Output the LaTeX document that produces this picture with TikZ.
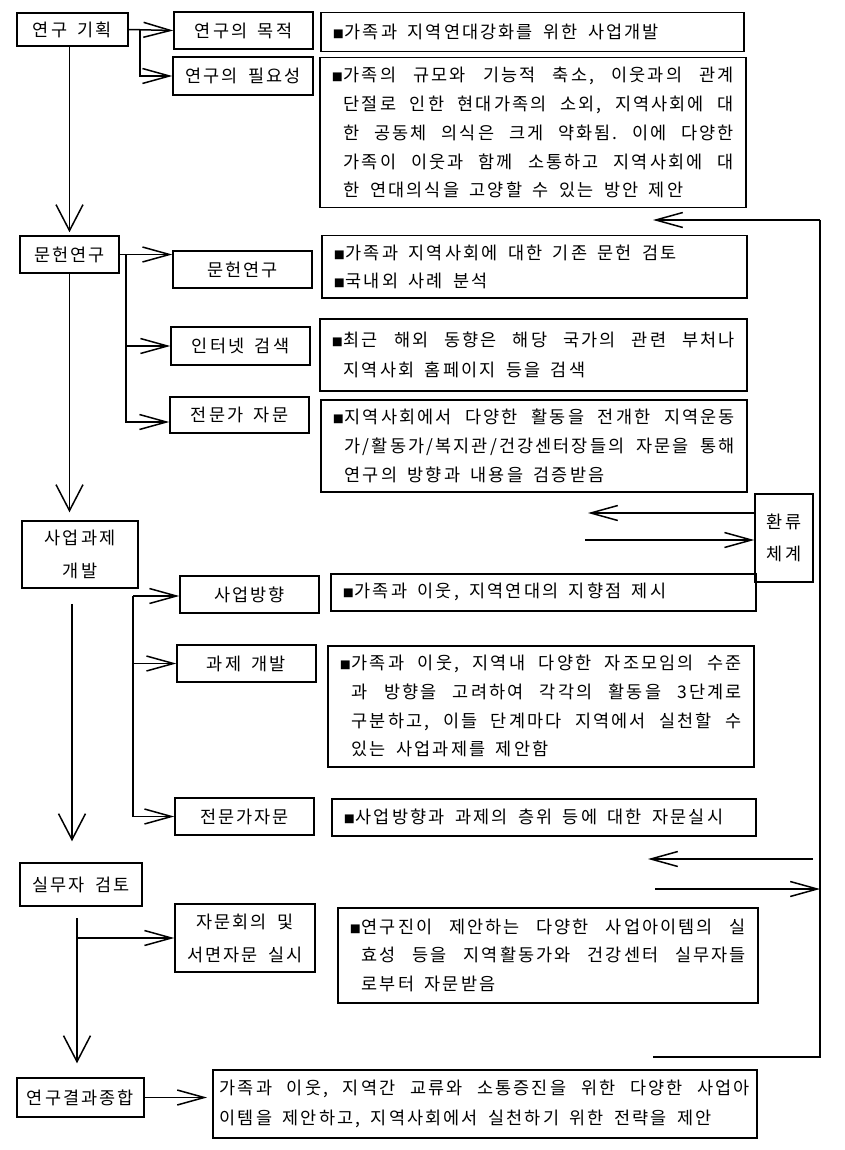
\documentclass[tikz,border=0pt]{standalone}
\usepackage{fontspec}
\setmainfont{Noto Sans CJK KR}[LetterSpace=12]
\usetikzlibrary{arrows.meta}

\newcommand{\kf}[1]{\fontsize{17.5}{#1}\selectfont\frenchspacing\parindent=0pt}
\newcommand{\wsp}{\spaceskip=0.6em plus 0.5em\relax\xspaceskip=\spaceskip}
\newcommand{\bul}{\makebox[12pt][l]{\fontsize{11}{11}\selectfont ■}}
\newcommand{\ind}{\hspace*{12pt}}
\newcommand{\jl}[1]{\makebox[\dimexpr\hsize-12pt\relax][s]{#1}}
\newcommand{\jlw}[1]{\makebox[\hsize][s]{#1}}

\begin{document}
\begin{tikzpicture}[x=1pt,y=-1pt,line width=1.5pt,
    lbl/.style={draw,minimum width=139pt,minimum height=37pt,inner sep=0pt,align=center,font=\kf{33},execute at begin node=\wsp},
    cbox/.style={draw,anchor=north west,align=left,inner xsep=12pt,inner ysep=0pt,execute at begin node=\wsp},
    harr/.style={-{Straight Barb[length=27pt,width=15pt]}},
    varr/.style={-{Straight Barb[length=26pt,width=27pt]}}]

\useasboundingbox (0,0) rectangle (845,1150);

% left column
\node[lbl,minimum width=111pt,minimum height=33pt] (plan) at (72.5,29.5) {연구 기획};
\node[lbl,minimum width=99pt] (lit) at (69.5,254.5) {문헌연구};
\node[lbl,minimum width=116pt,minimum height=67pt] (dev) at (80,554.5) {사업과제\\개발};
\node[lbl,minimum width=122pt,minimum height=43pt] (rev) at (81,884.5) {실무자 검토};
\node[lbl,minimum width=127pt,minimum height=39pt] (sum) at (80.5,1097.5) {연구결과종합};

% middle column
\node[lbl] (aim) at (243.5,30.5) {연구의 목적};
\node[lbl,minimum width=140pt,minimum height=38pt] (need) at (243,76) {연구의 필요성};
\node[lbl] (lit2) at (242.5,269.5) {문헌연구};
\node[lbl,minimum height=38pt] (web) at (240.5,346) {인터넷 검색};
\node[lbl,minimum height=36pt] (exp) at (239.5,415) {전문가 자문};
\node[lbl] (dir) at (249.5,594.5) {사업방향};
\node[lbl] (task) at (246.5,663.5) {과제 개발};
\node[lbl] (exp2) at (244.5,816.5) {전문가자문};
\node[lbl,minimum width=140pt,minimum height=68pt] (conf) at (245,938) {자문회의 및\\서면자문 실시};

% content boxes
\node[cbox,text width=399pt,minimum height=39pt,font=\kf{28}] (c1) at (320,12)
  {\bul 가족과 지역연대강화를 위한 사업개발};
\node[cbox,text width=402pt,minimum height=150pt,font=\kf{28.7}] (c2) at (319,57)
  {\bul\jl{가족의 규모와 기능적 축소, 이웃과의 관계}\\
   \ind\jl{단절로 인한 현대가족의 소외, 지역사회에 대}\\
   \ind\jl{한 공동체 의식은 크게 약화됨. 이에 다양한}\\
   \ind\jl{가족이 이웃과 함께 소통하고 지역사회에 대}\\
   \ind 한 연대의식을 고양할 수 있는 방안 제안};
\node[cbox,text width=401pt,minimum height=62pt,font=\kf{28}] (c3) at (321,235)
  {\bul 가족과 지역사회에 대한 기존 문헌 검토\\
   \bul 국내외 사례 분석};
\node[cbox,text width=403pt,minimum height=72pt,font=\kf{30}] (c4) at (319,318)
  {\bul\jl{최근 해외 동향은 해당 국가의 관련 부처나}\\
   \ind 지역사회 홈페이지 등을 검색};
\node[cbox,text width=402pt,minimum height=92pt,font=\kf{29}] (c5) at (320,399)
  {\bul\jl{지역사회에서 다양한 활동을 전개한 지역운동}\\
   \ind\jl{가/활동가/복지관/건강센터장들의 자문을 통해}\\
   \ind 연구의 방향과 내용을 검증받음};
\node[cbox,text width=401pt,minimum height=37pt,font=\kf{28}] (c6) at (330,573)
  {\bul 가족과 이웃, 지역연대의 지향점 제시};
\node[cbox,text width=402pt,minimum height=121pt,font=\kf{28.7}] (c7) at (327,645)
  {\bul\jl{가족과 이웃, 지역내 다양한 자조모임의 수준}\\
   \ind\jl{과 방향을 고려하여 각각의 활동을 3단계로}\\
   \ind\jl{구분하고, 이들 단계마다 지역에서 실천할 수}\\
   \ind 있는 사업과제를 제안함};
\node[cbox,text width=400pt,minimum height=37pt,font=\kf{28}] (c8) at (331,798)
  {\bul 사업방향과 과제의 층위 등에 대한 자문실시};
\node[cbox,text width=396pt,minimum height=95pt,font=\kf{28.5}] (c9) at (337,907)
  {\bul\jl{연구진이 제안하는 다양한 사업아이템의 실}\\
   \ind\jl{효성 등을 지역활동가와 건강센터 실무자들}\\
   \ind 로부터 자문받음};
\node[cbox,inner xsep=7pt,text width=530pt,minimum height=68pt,font=\kf{30}] (c10) at (212,1069)
  {\jlw{가족과 이웃, 지역간 교류와 소통증진을 위한 다양한 사업아}\\
   이템을 제안하고, 지역사회에서 실천하기 위한 전략을 제안};

% feedback
\node[lbl,minimum width=58pt,minimum height=88pt,font=\kf{32}] (fb) at (784,538) {환류\\체계};
\coordinate (ftop) at (820,220);
\coordinate (ftip) at (653,220);
\coordinate (fbot) at (820,1057);
\coordinate (fend) at (653,1057);
\coordinate (fa1) at (588,513);
\coordinate (fa2) at (585,540);
\coordinate (fc1) at (648,859);
\coordinate (fc2) at (655,889);

% branch points
\coordinate (pb) at (140,29.5);
\coordinate (lb) at (126,254.5);
\coordinate (db) at (133,596);
\coordinate (rb) at (77,906);

% connectors
\draw[harr] (plan.east) -- (aim.west);
\draw[harr] (pb) |- (need.west);
\draw[varr,shorten >=3pt] (lit.north |- plan.south) -- (lit.north);

\draw[harr] (lit.east) -- (lit.east -| lit2.west);
\draw[harr] (lb) |- (web.west);
\draw[harr] (lb) |- ([yshift=-7pt]exp.west);
\draw[varr,shorten >=8pt] (lit.south) -- (lit.south |- dev.north);

\draw[harr] (db) -- (db -| dir.west);
\draw[harr] (db |- task.west) -- (task.west);
\draw[harr] (db) |- (exp2.west);
\draw[varr,shorten <=15pt,shorten >=21pt] ([xshift=-8pt]dev.south) -- ([xshift=-8pt]dev.south |- rev.north);

\draw[harr] (rb |- conf.west) -- (conf.west);
\draw[varr,shorten <=12pt,shorten >=14pt] (rb) -- (rb |- sum.north);
\draw[harr,shorten >=5pt] (sum.east) -- (sum.east -| c10.west);

\draw[harr] (ftop) -- (ftip);
\draw (ftop) -- (fbot) -- (fend);
\draw[harr] (fb.west |- fa1) -- (fa1);
\draw[harr] (fa2) -- (fa2 -| fb.west);
\draw[harr,shorten <=7pt] (fc1 -| ftop) -- (fc1);
\draw[harr] (fc2) -- (fc2 -| ftop);

\end{tikzpicture}
\end{document}
